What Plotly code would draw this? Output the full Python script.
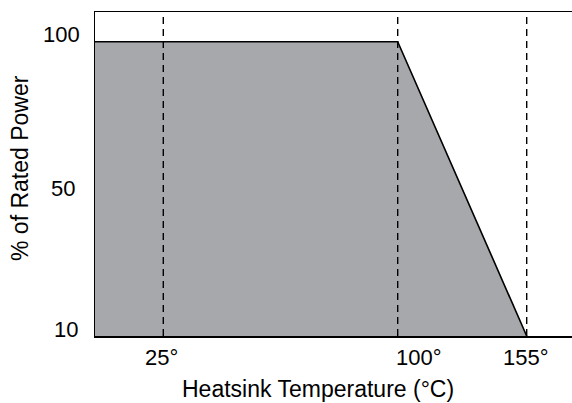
import numpy as np
import plotly.graph_objects as go

# ---- data ----
temps = [100, 155]              # derating knee and zero-power temperature (°C)
power = [100, 10]               # % of rated power at those temperatures
ref_temps = [25, 100, 155]      # dashed reference temperatures
x_tick_labels = ["25°", "100°", "155°"]
y_tick_values = [100, 50, 10]
y_tick_labels = ["100", "50", "10"]

# ---- schematic (non-linear) scales ----
def sx(t):
    return np.interp(t, [25, 100, 155], [68.3, 302.7, 431.7])

def sy(p):
    return np.interp(p, [10, 50, 100], [0.0, 1.0, 2.0])

X_MAX = 477.0
Y_MAX = 2.2018

FONT = "Liberation Sans, Arial, Helvetica, sans-serif"
FILL = "#a7a8ab"

fig = go.Figure()

# shaded safe-operating area
fx = [0.0] + list(sx(temps))
fy = [sy(power[0])] + list(sy(power))
fig.add_trace(go.Scatter(x=fx, y=fy, mode="lines", fill="tozeroy",
                         fillcolor=FILL, line=dict(color="black", width=1.6),
                         hoverinfo="skip", showlegend=False))

# dashed reference lines
for t in ref_temps:
    fig.add_shape(type="line", xref="x", yref="paper", x0=float(sx(t)), x1=float(sx(t)),
                  y0=0, y1=1, line=dict(color="black", width=1.4, dash="7px,5px"),
                  layer="above")

# tick labels as annotations (schematic offsets)
x_shifts = [-2, 21, -1]
for t, lab, xs in zip(ref_temps, x_tick_labels, x_shifts):
    fig.add_annotation(x=float(sx(t)), y=0, xref="x", yref="paper", text=lab,
                       showarrow=False, xanchor="center", yanchor="middle",
                       xshift=xs, yshift=-21, font=dict(family=FONT, size=22, color="black"))

y_xshift = [-13, -18, -15]
y_yshift = [7.7, 0.6, 7]
for v, lab, xs, ys in zip(y_tick_values, y_tick_labels, y_xshift, y_yshift):
    fig.add_annotation(x=0, y=float(sy(v)), xref="paper", yref="y", text=lab,
                       showarrow=False, xanchor="right", yanchor="middle",
                       xshift=xs, yshift=ys, font=dict(family=FONT, size=22, color="black"))

# axis titles
fig.add_annotation(x=(317.5 - 95) / 477, y=(336 - 389) / 324, xref="paper", yref="paper",
                   text="Heatsink Temperature (°C)", showarrow=False,
                   xanchor="center", yanchor="middle",
                   font=dict(family=FONT, size=23, color="black"))
fig.add_annotation(x=(20 - 95) / 477, y=(336 - 168) / 324, xref="paper", yref="paper",
                   text="% of Rated Power", showarrow=False, textangle=-90,
                   xanchor="center", yanchor="middle",
                   font=dict(family=FONT, size=23, color="black"))

fig.update_xaxes(range=[0, X_MAX], showgrid=False, zeroline=False, showticklabels=False,
                 ticks="", showline=True, linecolor="black", linewidth=1.5, mirror=True)
fig.update_yaxes(range=[0, Y_MAX], showgrid=False, zeroline=False, showticklabels=False,
                 ticks="", showline=True, linecolor="black", linewidth=1.5, mirror=False)

fig.update_layout(width=572, height=403, margin=dict(l=95, r=0, t=12, b=67),
                  paper_bgcolor="white", plot_bgcolor="white",
                  font=dict(family=FONT, color="black"))

fig.write_html("out.html", config={"displayModeBar": False, "staticPlot": True},
               post_script="document.body.style.margin='0';document.body.style.overflow='hidden';")
